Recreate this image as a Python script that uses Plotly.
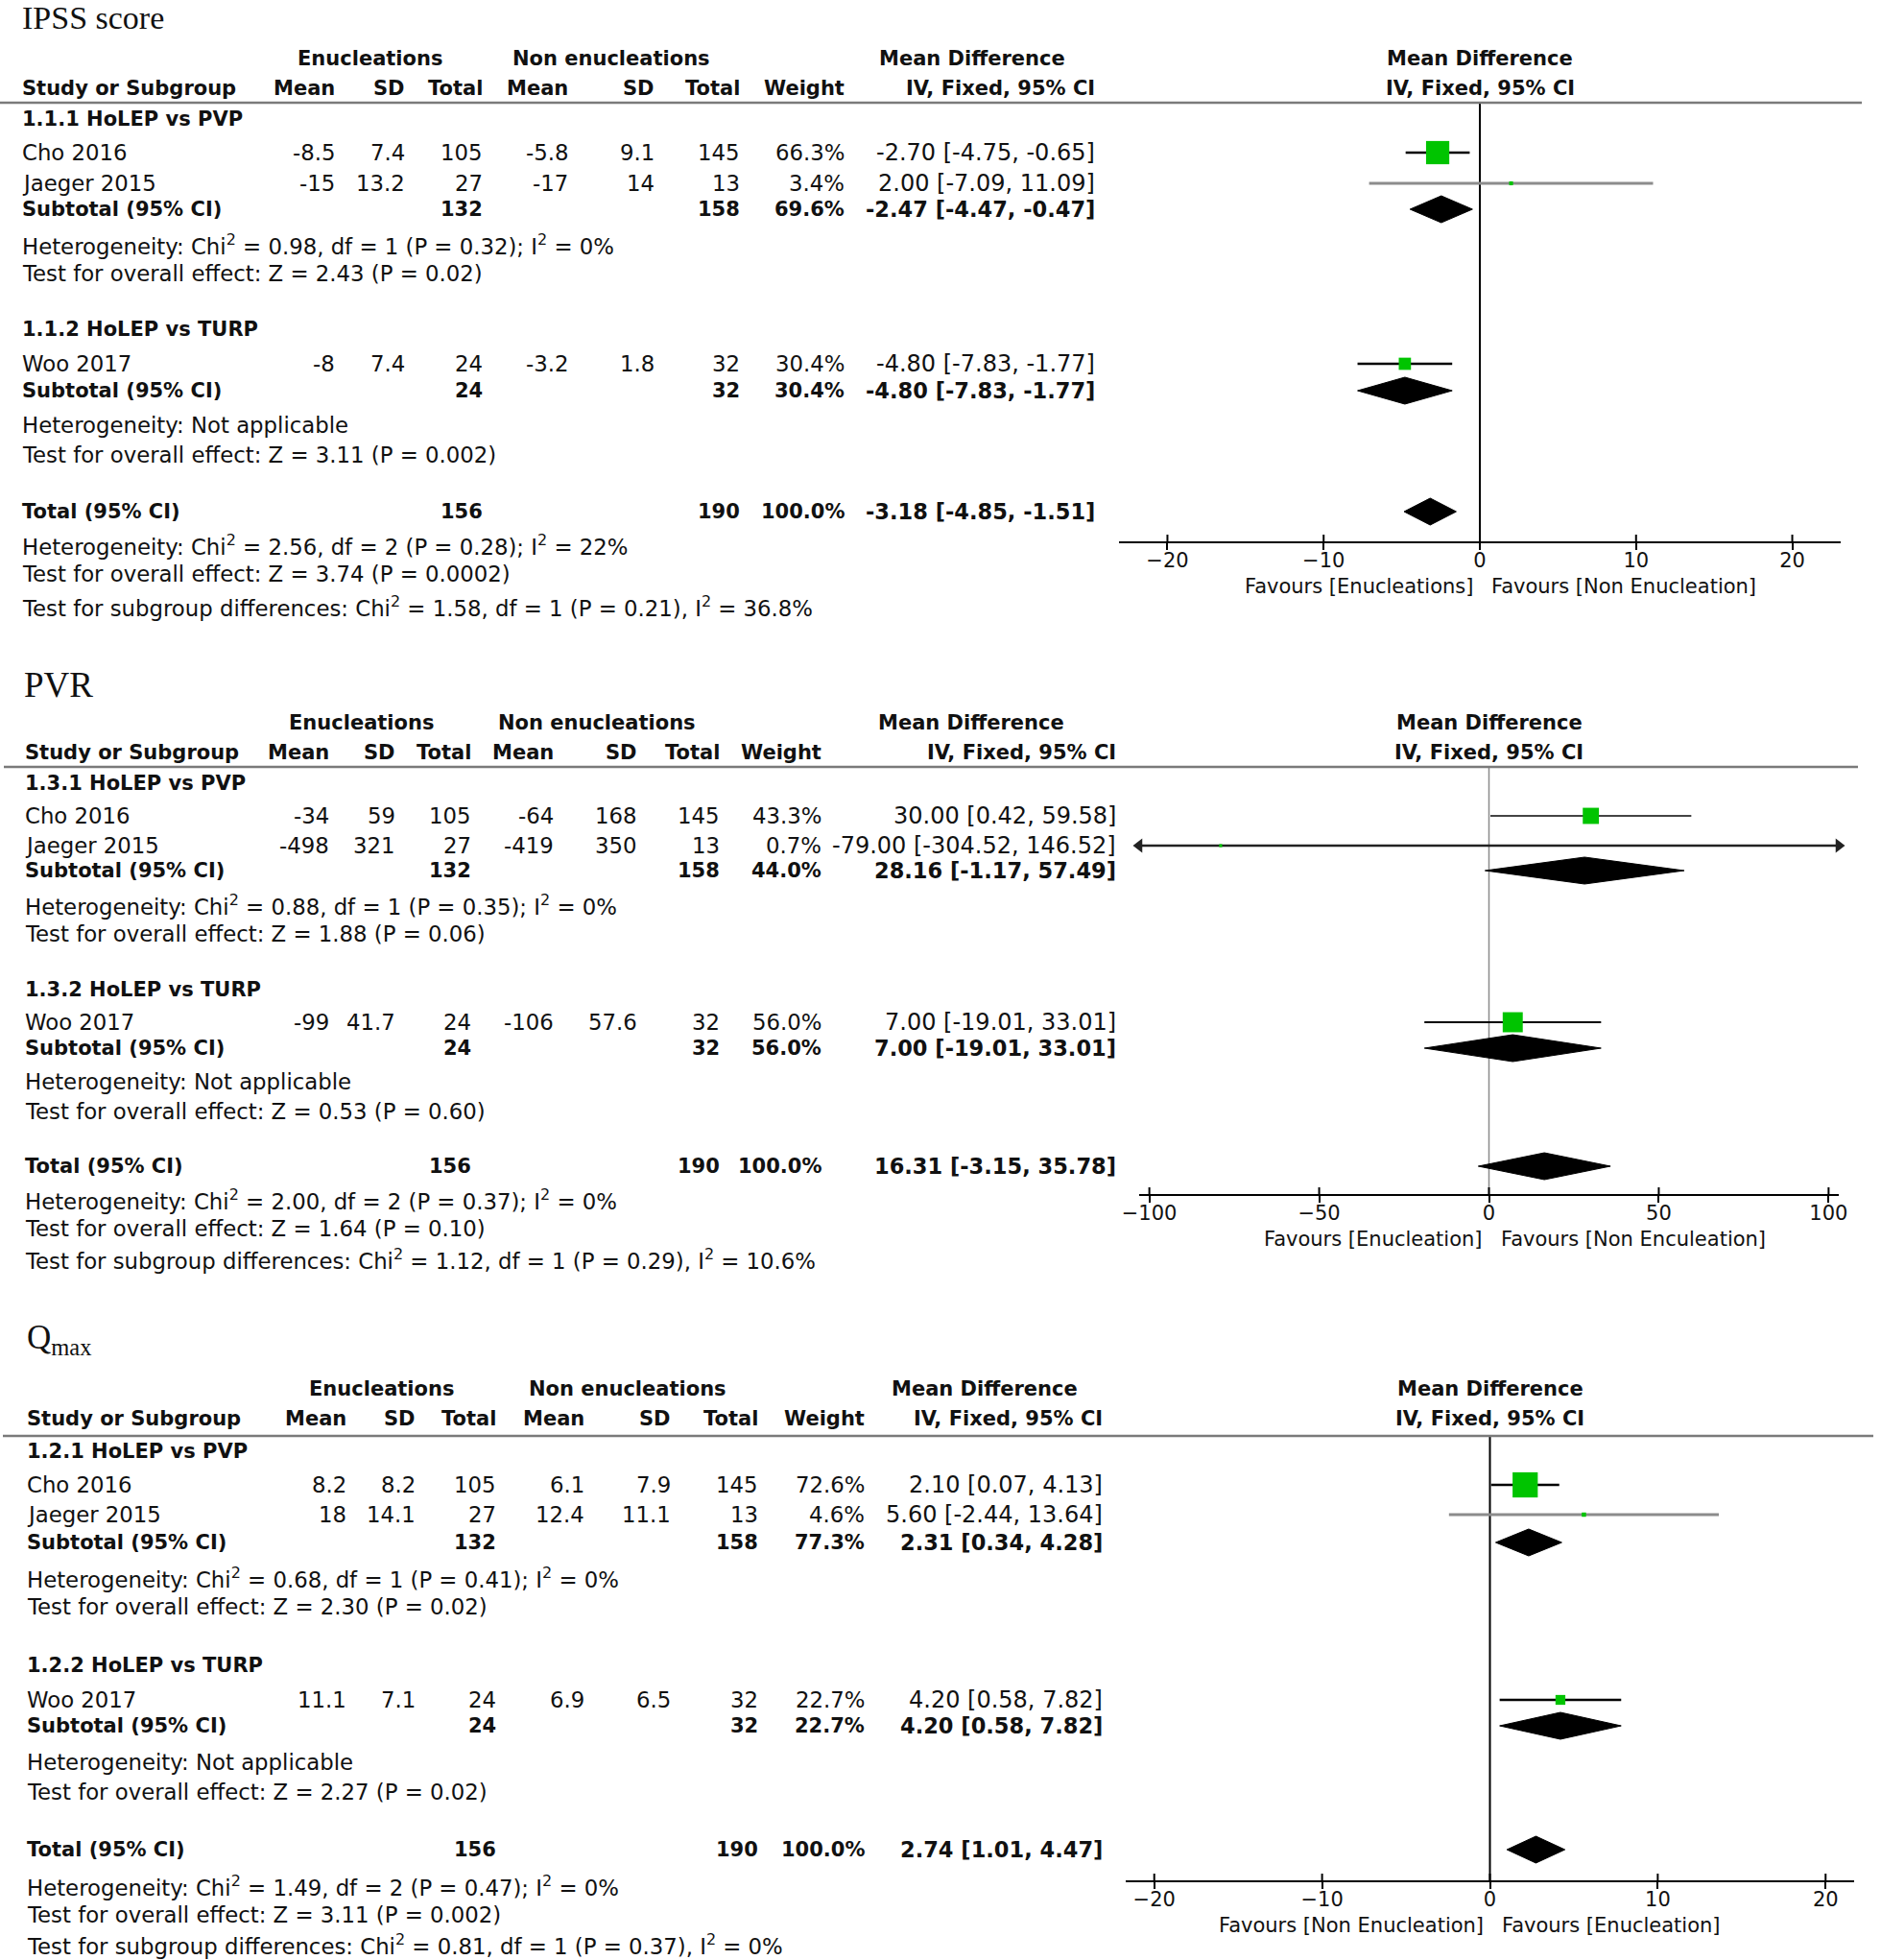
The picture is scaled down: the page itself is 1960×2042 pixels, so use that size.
import plotly.graph_objects as go

W, H = 1960, 2042
SANS = "DejaVu Sans"
SERIF = "Liberation Serif"

# ======================= DATA =======================
studies = ["Cho 2016", "Jaeger 2015", "Woo 2017"]
study_group = [0, 0, 1]

# ---- IPSS score ----
ipss_title = "IPSS score"
ipss_groups = ["1.1.1 HoLEP vs PVP", "1.1.2 HoLEP vs TURP"]
ipss_e_mean = [-8.5, -15, -8]
ipss_e_sd = [7.4, 13.2, 7.4]
ipss_e_n = [105, 27, 24]
ipss_c_mean = [-5.8, -17, -3.2]
ipss_c_sd = [9.1, 14, 1.8]
ipss_c_n = [145, 13, 32]
ipss_weight = [66.3, 3.4, 30.4]
ipss_md = [-2.70, 2.00, -4.80]
ipss_lo = [-4.75, -7.09, -7.83]
ipss_hi = [-0.65, 11.09, -1.77]
ipss_sub_e_n = [132, 24]
ipss_sub_c_n = [158, 32]
ipss_sub_weight = [69.6, 30.4]
ipss_sub_md = [-2.47, -4.80]
ipss_sub_lo = [-4.47, -7.83]
ipss_sub_hi = [-0.47, -1.77]
ipss_sub_het = ["Heterogeneity: Chi<sup>2</sup> = 0.98, df = 1 (P = 0.32); I<sup>2</sup> = 0%",
                "Heterogeneity: Not applicable"]
ipss_sub_effect = ["Test for overall effect: Z = 2.43 (P = 0.02)",
                   "Test for overall effect: Z = 3.11 (P = 0.002)"]
ipss_tot = [156, 190, 100.0]
ipss_tot_ci = [-3.18, -4.85, -1.51]
ipss_tot_notes = ["Heterogeneity: Chi<sup>2</sup> = 2.56, df = 2 (P = 0.28); I<sup>2</sup> = 22%",
                  "Test for overall effect: Z = 3.74 (P = 0.0002)",
                  "Test for subgroup differences: Chi<sup>2</sup> = 1.58, df = 1 (P = 0.21), I<sup>2</sup> = 36.8%"]
ipss_ticks = [-20, -10, 0, 10, 20]
ipss_favours = ["Favours [Enucleations]", "Favours [Non Enucleation]"]

# ---- PVR ----
pvr_title = "PVR"
pvr_groups = ["1.3.1 HoLEP vs PVP", "1.3.2 HoLEP vs TURP"]
pvr_e_mean = [-34, -498, -99]
pvr_e_sd = [59, 321, 41.7]
pvr_e_n = [105, 27, 24]
pvr_c_mean = [-64, -419, -106]
pvr_c_sd = [168, 350, 57.6]
pvr_c_n = [145, 13, 32]
pvr_weight = [43.3, 0.7, 56.0]
pvr_md = [30.00, -79.00, 7.00]
pvr_lo = [0.42, -304.52, -19.01]
pvr_hi = [59.58, 146.52, 33.01]
pvr_sub_e_n = [132, 24]
pvr_sub_c_n = [158, 32]
pvr_sub_weight = [44.0, 56.0]
pvr_sub_md = [28.16, 7.00]
pvr_sub_lo = [-1.17, -19.01]
pvr_sub_hi = [57.49, 33.01]
pvr_sub_het = ["Heterogeneity: Chi<sup>2</sup> = 0.88, df = 1 (P = 0.35); I<sup>2</sup> = 0%",
               "Heterogeneity: Not applicable"]
pvr_sub_effect = ["Test for overall effect: Z = 1.88 (P = 0.06)",
                  "Test for overall effect: Z = 0.53 (P = 0.60)"]
pvr_tot = [156, 190, 100.0]
pvr_tot_ci = [16.31, -3.15, 35.78]
pvr_tot_notes = ["Heterogeneity: Chi<sup>2</sup> = 2.00, df = 2 (P = 0.37); I<sup>2</sup> = 0%",
                 "Test for overall effect: Z = 1.64 (P = 0.10)",
                 "Test for subgroup differences: Chi<sup>2</sup> = 1.12, df = 1 (P = 0.29), I<sup>2</sup> = 10.6%"]
pvr_ticks = [-100, -50, 0, 50, 100]
pvr_favours = ["Favours [Enucleation]", "Favours [Non Enculeation]"]

# ---- Qmax ----
qmax_title = "Q<sub>max</sub>"
qmax_groups = ["1.2.1 HoLEP vs PVP", "1.2.2 HoLEP vs TURP"]
qmax_e_mean = [8.2, 18, 11.1]
qmax_e_sd = [8.2, 14.1, 7.1]
qmax_e_n = [105, 27, 24]
qmax_c_mean = [6.1, 12.4, 6.9]
qmax_c_sd = [7.9, 11.1, 6.5]
qmax_c_n = [145, 13, 32]
qmax_weight = [72.6, 4.6, 22.7]
qmax_md = [2.10, 5.60, 4.20]
qmax_lo = [0.07, -2.44, 0.58]
qmax_hi = [4.13, 13.64, 7.82]
qmax_sub_e_n = [132, 24]
qmax_sub_c_n = [158, 32]
qmax_sub_weight = [77.3, 22.7]
qmax_sub_md = [2.31, 4.20]
qmax_sub_lo = [0.34, 0.58]
qmax_sub_hi = [4.28, 7.82]
qmax_sub_het = ["Heterogeneity: Chi<sup>2</sup> = 0.68, df = 1 (P = 0.41); I<sup>2</sup> = 0%",
                "Heterogeneity: Not applicable"]
qmax_sub_effect = ["Test for overall effect: Z = 2.30 (P = 0.02)",
                   "Test for overall effect: Z = 2.27 (P = 0.02)"]
qmax_tot = [156, 190, 100.0]
qmax_tot_ci = [2.74, 1.01, 4.47]
qmax_tot_notes = ["Heterogeneity: Chi<sup>2</sup> = 1.49, df = 2 (P = 0.47); I<sup>2</sup> = 0%",
                  "Test for overall effect: Z = 3.11 (P = 0.002)",
                  "Test for subgroup differences: Chi<sup>2</sup> = 0.81, df = 1 (P = 0.37), I<sup>2</sup> = 0%"]
qmax_ticks = [-20, -10, 0, 10, 20]
qmax_favours = ["Favours [Non Enucleation]", "Favours [Enucleation]"]


def panel(prefix):
    g = globals()
    return {k: g[f"{prefix}_{k}"] for k in
            ["title", "groups", "e_mean", "e_sd", "e_n", "c_mean", "c_sd", "c_n", "weight", "md", "lo", "hi",
             "sub_e_n", "sub_c_n", "sub_weight", "sub_md", "sub_lo", "sub_hi", "sub_het", "sub_effect",
             "tot", "tot_ci", "tot_notes", "ticks", "favours"]}


PANELS = [panel("ipss"), panel("pvr"), panel("qmax")]

# ======================= LAYOUT (pixel positions) =======================
LAYOUTS = [
    dict(title=(21, 19, 34), h1=61, h2=92, line=107, line_x=(0, 1940), axis=564, fav=611,
         groups=[dict(head=124, rows=[159, 191], sub=218, het=255, eff=285),
                 dict(head=343, rows=[379], sub=407, het=443, eff=474)],
         tot=533, notes=[568, 598, 632],
         cols=dict(study=21, e_mean=351, e_sd=424, e_n=505, c_mean=594, c_sd=684, c_n=773,
                   w=882, ci=1143, e_head=385, c_head=637, md_head=1013),
         xrange=[-23.1, 23.1], xdom=[1166, 1918],
         zero=dict(color="black", width=2),
         ci_style=[("black", 2.5), ("#8c8c8c", 3), ("black", 2.5)]),
    dict(title=(23, 713, 37), h1=753, h2=784, line=799, line_x=(4, 1936), axis=1244, fav=1291,
         groups=[dict(head=816, rows=[850, 881], sub=907, het=943, eff=973),
                 dict(head=1031, rows=[1065], sub=1092, het=1127, eff=1158)],
         tot=1215, notes=[1250, 1280, 1312],
         cols=dict(study=24, e_mean=345, e_sd=414, e_n=493, c_mean=579, c_sd=666, c_n=752,
                   w=858, ci=1165, e_head=376, c_head=622, md_head=1012),
         xrange=[-103, 103], xdom=[1187, 1916],
         zero=dict(color="#8a8a8a", width=1.5),
         ci_style=[("#444444", 2), ("#222222", 2.5), ("black", 2)]),
    dict(title=(26, 1395, 35), h1=1447, h2=1478, line=1496, line_x=(3, 1952), axis=1959, fav=2006,
         groups=[dict(head=1512, rows=[1547, 1578], sub=1607, het=1644, eff=1674),
                 dict(head=1735, rows=[1771], sub=1798, het=1836, eff=1867)],
         tot=1927, notes=[1965, 1995, 2026],
         cols=dict(study=26, e_mean=363, e_sd=435, e_n=519, c_mean=611, c_sd=701, c_n=792,
                   w=903, ci=1151, e_head=397, c_head=654, md_head=1026),
         xrange=[-21.7, 21.7], xdom=[1173, 1932],
         zero=dict(color="black", width=2),
         ci_style=[("black", 2.5), ("#8c8c8c", 3), ("black", 2.5)]),
]

TXT = 22.8
BOLD = 21
CI_TXT = 24
CI_BOLD = 22.5
GREEN = "#00c400"
DIAMOND_H = 14

fig = go.Figure()
annotations = []
shapes = []


def A(x, y, text, anchor="left", size=TXT, bold=False, family=SANS, xref="paper", xshift=0):
    if bold:
        text = f"<b>{text}</b>"
    annotations.append(dict(
        x=x / W if xref == "paper" else x, y=1 - y / H, xref=xref, yref="paper",
        text=text, showarrow=False, xanchor=anchor, yanchor="middle", xshift=xshift,
        font=dict(family=family, size=size, color="#111111")))


def ci_text(md, lo, hi):
    return f"{md:.2f} [{lo:.2f}, {hi:.2f}]"


def num(v):
    return f"{v:g}"


for k, (P, L) in enumerate(zip(PANELS, LAYOUTS), start=1):
    xa = "x" if k == 1 else f"x{k}"
    ya = "y" if k == 1 else f"y{k}"
    xkey = "xaxis" if k == 1 else f"xaxis{k}"
    ykey = "yaxis" if k == 1 else f"yaxis{k}"
    C = L["cols"]
    xmin, xmax = L["xrange"]

    fig.layout[xkey] = dict(
        domain=[L["xdom"][0] / W, L["xdom"][1] / W], range=L["xrange"], anchor=ya,
        showline=True, linecolor="black", linewidth=2, ticks="outside", ticklen=7,
        tickwidth=2, tickcolor="black", tickvals=P["ticks"], showgrid=False, zeroline=False,
        ticklabelstandoff=-7, automargin=False,
        tickfont=dict(family=SANS, size=21, color="#111111"), fixedrange=True)
    fig.layout[ykey] = dict(
        domain=[1 - L["axis"] / H, 1 - L["line"] / H], range=[L["axis"], L["line"]],
        anchor=xa, visible=False, fixedrange=True, automargin=False)

    tx, ty, ts = L["title"]
    A(tx, ty, P["title"], size=ts, family=SERIF)

    A(C["e_head"], L["h1"], "Enucleations", "center", BOLD, True)
    A(C["c_head"], L["h1"], "Non enucleations", "center", BOLD, True)
    A(C["md_head"], L["h1"], "Mean Difference", "center", BOLD, True)
    A(0, L["h1"], "Mean Difference", "center", BOLD, True, xref=xa)
    A(0, L["h2"], "IV, Fixed, 95% CI", "center", BOLD, True, xref=xa)
    A(C["study"], L["h2"], "Study or Subgroup", "left", BOLD, True)
    for key, lab in [("e_mean", "Mean"), ("e_sd", "SD"), ("e_n", "Total"), ("c_mean", "Mean"),
                     ("c_sd", "SD"), ("c_n", "Total"), ("w", "Weight"), ("ci", "IV, Fixed, 95% CI")]:
        A(C[key], L["h2"], lab, "right", BOLD, True)

    shapes.append(dict(type="line", xref="paper", yref="paper",
                       x0=L["line_x"][0] / W, x1=L["line_x"][1] / W,
                       y0=1 - L["line"] / H, y1=1 - L["line"] / H,
                       line=dict(color="#7a7a7a", width=2.5)))

    fig.add_trace(go.Scatter(x=[0, 0], y=[L["line"], L["axis"]], xaxis=xa, yaxis=ya, mode="lines",
                             line=dict(color=L["zero"]["color"], width=L["zero"]["width"]),
                             hoverinfo="skip"))
    for t in P["ticks"]:
        fig.add_trace(go.Scatter(x=[t, t], y=[L["axis"] - 7, L["axis"]], xaxis=xa, yaxis=ya,
                                 mode="lines", line=dict(color="black", width=2), hoverinfo="skip"))

    def diamond(md, lo, hi, yrow):
        fig.add_trace(go.Scatter(
            x=[lo, md, hi, md, lo], y=[yrow, yrow - DIAMOND_H, yrow, yrow + DIAMOND_H, yrow],
            xaxis=xa, yaxis=ya, mode="lines", fill="toself", fillcolor="black",
            line=dict(color="black", width=1), hoverinfo="skip"))

    for gi, G in enumerate(L["groups"]):
        A(C["study"], G["head"], P["groups"][gi], "left", BOLD, True)
        idx = [i for i, sg in enumerate(study_group) if sg == gi]
        for i, yrow in zip(idx, G["rows"]):
            A(C["study"], yrow, studies[i])
            A(C["e_mean"], yrow, num(P["e_mean"][i]), "right")
            A(C["e_sd"], yrow, num(P["e_sd"][i]), "right")
            A(C["e_n"], yrow, num(P["e_n"][i]), "right")
            A(C["c_mean"], yrow, num(P["c_mean"][i]), "right")
            A(C["c_sd"], yrow, num(P["c_sd"][i]), "right")
            A(C["c_n"], yrow, num(P["c_n"][i]), "right")
            A(C["w"], yrow, f"{P['weight'][i]:.1f}%", "right")
            A(C["ci"], yrow, ci_text(P["md"][i], P["lo"][i], P["hi"][i]), "right", CI_TXT)
            lo, hi = P["lo"][i], P["hi"][i]
            lo_c, hi_c = max(lo, xmin), min(hi, xmax)
            col, wid = L["ci_style"][i]
            fig.add_trace(go.Scatter(x=[lo_c, hi_c], y=[yrow, yrow], xaxis=xa, yaxis=ya, mode="lines",
                                     line=dict(color=col, width=wid), hoverinfo="skip"))
            if lo < xmin:
                fig.add_trace(go.Scatter(x=[lo_c], y=[yrow], xaxis=xa, yaxis=ya, mode="markers",
                                         marker=dict(symbol="triangle-left", size=13, color=col),
                                         cliponaxis=False, hoverinfo="skip"))
            if hi > xmax:
                fig.add_trace(go.Scatter(x=[hi_c], y=[yrow], xaxis=xa, yaxis=ya, mode="markers",
                                         marker=dict(symbol="triangle-right", size=13, color=col),
                                         cliponaxis=False, hoverinfo="skip"))
            fig.add_trace(go.Scatter(x=[P["md"][i]], y=[yrow], xaxis=xa, yaxis=ya, mode="markers",
                                     marker=dict(symbol="square", size=3 + 0.32 * P["weight"][i],
                                                 color=GREEN, line=dict(width=0)),
                                     hoverinfo="skip"))
        ys = G["sub"]
        A(C["study"], ys, "Subtotal (95% CI)", "left", BOLD, True)
        A(C["e_n"], ys, num(P["sub_e_n"][gi]), "right", BOLD, True)
        A(C["c_n"], ys, num(P["sub_c_n"][gi]), "right", BOLD, True)
        A(C["w"], ys, f"{P['sub_weight'][gi]:.1f}%", "right", BOLD, True)
        A(C["ci"], ys, ci_text(P["sub_md"][gi], P["sub_lo"][gi], P["sub_hi"][gi]), "right", CI_BOLD, True)
        diamond(P["sub_md"][gi], P["sub_lo"][gi], P["sub_hi"][gi], ys)
        A(C["study"], G["het"], P["sub_het"][gi])
        A(C["study"], G["eff"], P["sub_effect"][gi])

    yt = L["tot"]
    A(C["study"], yt, "Total (95% CI)", "left", BOLD, True)
    A(C["e_n"], yt, num(P["tot"][0]), "right", BOLD, True)
    A(C["c_n"], yt, num(P["tot"][1]), "right", BOLD, True)
    A(C["w"], yt, f"{P['tot'][2]:.1f}%", "right", BOLD, True)
    A(C["ci"], yt, ci_text(*P["tot_ci"]), "right", CI_BOLD, True)
    diamond(P["tot_ci"][0], P["tot_ci"][1], P["tot_ci"][2], yt)
    for note, yn in zip(P["tot_notes"], L["notes"]):
        A(C["study"], yn, note)

    A(0, L["fav"], P["favours"][0], "right", 21, xref=xa, xshift=-5)
    A(0, L["fav"], P["favours"][1], "left", 21, xref=xa, xshift=10)

fig.update_layout(width=W, height=H, autosize=False,
                  margin=dict(l=0, r=0, t=0, b=0, pad=0, autoexpand=False),
                  paper_bgcolor="white", plot_bgcolor="white", showlegend=False,
                  annotations=annotations, shapes=shapes)
fig.write_html("out.html", config={"responsive": False, "displayModeBar": False},
               post_script="document.body.style.margin='0';document.body.style.overflow='hidden';")
